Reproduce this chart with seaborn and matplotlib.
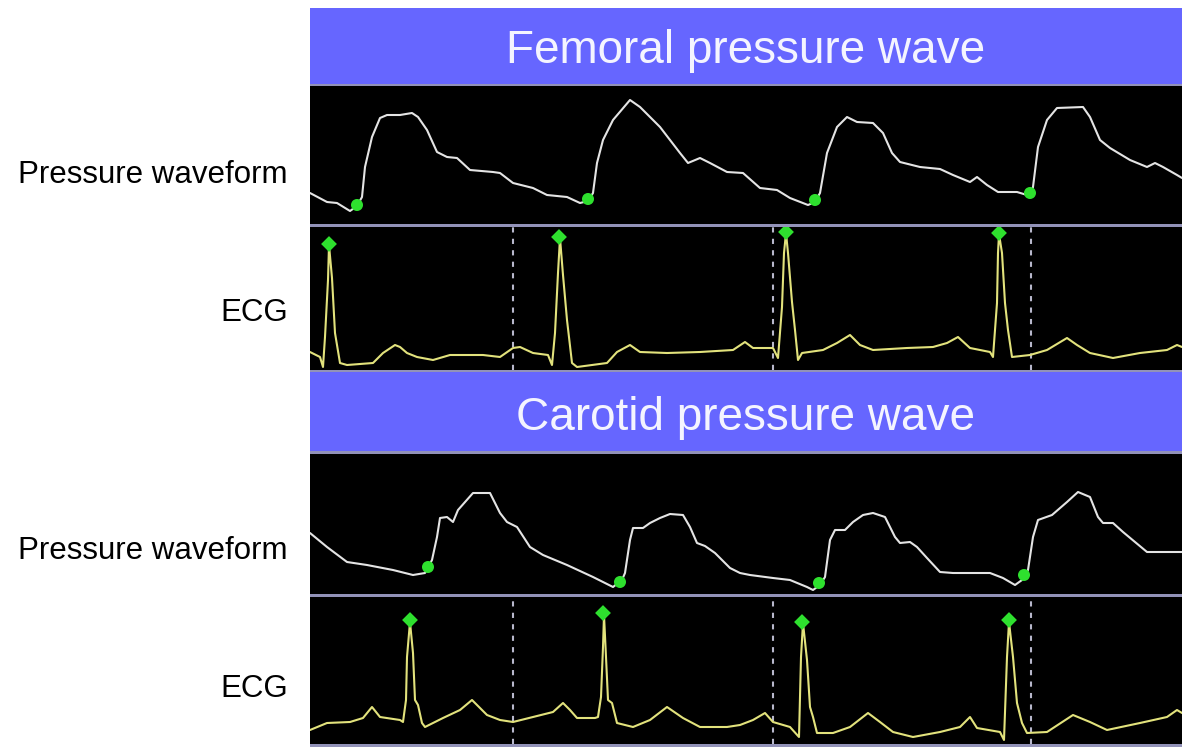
import numpy as np
import pandas as pd
import matplotlib.pyplot as plt
import seaborn as sns

# time in samples, amplitude in screen units
fem_t = [0, 17, 27, 40, 47, 52, 55, 62, 70, 77, 90, 102, 108, 117, 127, 137, 147, 160, 183, 190,
         203, 223, 237, 257, 270, 278, 283, 287, 293, 303, 320, 330, 350, 370, 378, 390, 400, 417,
         433, 450, 467, 480, 498, 505, 510, 517, 527, 537, 547, 563, 573, 582, 590, 610, 630, 643,
         660, 667, 677, 688, 707, 717, 721, 723, 728, 737, 747, 773, 780, 790, 800, 820, 837, 845,
         853, 867, 872]
fem_p = [30, 21, 20, 12, 17, 26, 56, 86, 105, 108, 108, 110, 106, 93, 71, 66, 65, 53, 51, 50,
         40, 35, 28, 26, 20, 22, 30, 60, 83, 103, 123, 116, 96, 70, 60, 65, 60, 51,
         50, 35, 33, 25, 18, 21, 30, 70, 96, 106, 101, 100, 90, 70, 61, 56, 54, 48,
         41, 46, 38, 31, 31, 28, 29, 36, 76, 103, 115, 116, 106, 83, 75, 63, 56, 60,
         56, 48, 45]
fem_onset_t = [47, 278, 505, 720]
fem_onset_p = [18, 24, 23, 30]

fem_ecg_t = [0, 10, 13, 15, 18, 19, 22, 25, 30, 37, 63, 73, 85, 90, 97, 107, 123, 140, 173, 190,
             203, 210, 223, 238, 242, 245, 248, 250, 253, 257, 262, 267, 297, 307, 320, 330, 357,
             390, 423, 435, 443, 463, 468, 472, 474, 476, 478, 482, 485, 488, 492, 513, 527, 540,
             550, 563, 597, 623, 637, 648, 660, 680, 683, 687, 688, 689, 692, 695, 698, 702, 720,
             737, 757, 767, 780, 803, 830, 857, 867, 872]
fem_ecg_v = [18, 13, 3, 33, 90, 125, 92, 37, 7, 5, 7, 17, 25, 23, 17, 13, 10, 15, 15, 13,
             22, 23, 17, 15, 5, 37, 97, 132, 95, 50, 7, 3, 7, 18, 25, 18, 17,
             18, 20, 28, 22, 22, 12, 63, 117, 137, 117, 68, 40, 10, 17, 20, 27, 35,
             25, 20, 22, 23, 27, 33, 22, 18, 13, 67, 117, 136, 117, 67, 40, 13, 15,
             20, 32, 25, 17, 12, 17, 20, 25, 23]
fem_r_t = [19, 249, 476, 689]
fem_r_v = [126, 133, 138, 137]

car_t = [0, 17, 37, 57, 83, 103, 115, 122, 127, 130, 137, 143, 148, 163, 180, 190, 197, 207, 220,
         233, 257, 283, 303, 312, 315, 320, 323, 333, 340, 350, 360, 373, 380, 387, 395, 405, 420,
         430, 440, 463, 480, 497, 503, 510, 515, 520, 525, 535, 543, 553, 563, 575, 585, 590, 600,
         607, 617, 630, 643, 680, 693, 705, 712, 718, 723, 728, 742, 757, 768, 780, 788, 793, 803,
         813, 837, 872]
car_p = [62, 48, 33, 30, 25, 20, 22, 35, 58, 77, 78, 73, 85, 102, 102, 82, 73, 68, 48,
         40, 30, 18, 8, 15, 22, 55, 67, 67, 72, 77, 81, 80, 68, 52, 49, 42, 27,
         22, 20, 17, 15, 8, 5, 10, 18, 55, 65, 65, 73, 80, 82, 78, 58, 52, 53,
         48, 37, 23, 22, 22, 17, 10, 15, 25, 58, 75, 80, 93, 103, 98, 78, 72, 72,
         63, 43, 43]
car_onset_t = [118, 310, 509, 714]
car_onset_p = [28, 13, 12, 20]

car_ecg_t = [0, 17, 40, 53, 62, 70, 90, 93, 96, 97, 100, 103, 105, 108, 112, 115, 133, 150, 162,
             177, 190, 203, 223, 243, 253, 260, 267, 285, 288, 291, 293, 294, 296, 298, 302, 307,
             323, 340, 357, 373, 390, 417, 430, 443, 455, 463, 480, 489, 491, 493, 497, 500, 503,
             507, 523, 540, 558, 570, 583, 603, 630, 650, 660, 667, 690, 694, 697, 699, 703, 707,
             712, 717, 737, 763, 780, 797, 830, 857, 867, 872]
car_ecg_v = [15, 22, 23, 27, 38, 28, 25, 23, 45, 88, 123, 92, 45, 40, 22, 18, 27, 35, 45,
             30, 25, 23, 28, 33, 42, 35, 27, 27, 28, 48, 98, 130, 88, 45, 42, 22,
             18, 25, 38, 27, 18, 18, 20, 25, 32, 23, 18, 8, 88, 122, 85, 38, 28,
             12, 12, 18, 32, 23, 13, 8, 13, 18, 28, 17, 13, 5, 88, 123, 88, 42,
             22, 12, 13, 30, 23, 15, 22, 28, 35, 32]
car_r_t = [100, 293, 492, 699]
car_r_v = [125, 132, 123, 125]

marker_t = [203, 463, 721]

titles = ["Femoral pressure wave", "Carotid pressure wave"]
row_labels = ["Pressure waveform", "ECG"]

sns.set_style("white")
plt.rcParams['font.family'] = ['Liberation Sans', 'DejaVu Sans']

W, H = 1182, 747
fig = plt.figure(figsize=(W / 100, H / 100), dpi=100)

def box(top, bottom, left=310, right=1182):
    return [left / W, 1 - bottom / H, (right - left) / W, (bottom - top) / H]

blue = "#6666ff"
sep = "#9292b8"

back = fig.add_axes(box(84, 747))
back.set_facecolor(sep)
back.set_xticks([]); back.set_yticks([])
for s in back.spines.values():
    s.set_visible(False)

def strip(top, bottom, color):
    ax = fig.add_axes(box(top, bottom))
    ax.set_facecolor(color)
    ax.set_xticks([]); ax.set_yticks([])
    for s in ax.spines.values():
        s.set_visible(False)
    ax.set_xlim(0, 872)
    return ax

sections = [
    dict(title=titles[0], bar=(8, 84), press=(86, 224), ecg=(227, 370),
         pt=fem_t, pv=fem_p, ot=fem_onset_t, ov=fem_onset_p,
         et=fem_ecg_t, ev=fem_ecg_v, rt=fem_r_t, rv=fem_r_v,
         pbase=223, ebase=370, title_y=63, lab_y=(183, 321)),
    dict(title=titles[1], bar=(372, 451), press=(454, 594), ecg=(597, 744),
         pt=car_t, pv=car_p, ot=car_onset_t, ov=car_onset_p,
         et=car_ecg_t, ev=car_ecg_v, rt=car_r_t, rv=car_r_v,
         pbase=595, ebase=745, title_y=430, lab_y=(559, 697)),
]

for sec in sections:
    bar = strip(sec["bar"][0], sec["bar"][1], blue)
    bar.set_ylim(0, 1)
    fig.text((310 + 1182) / 2 / W, 1 - sec["title_y"] / H, sec["title"],
             color="#f4f4ff", fontsize=33, ha="center", va="baseline")

    # pressure trace
    pa = strip(sec["press"][0], sec["press"][1], "black")
    pa.set_ylim(sec["pbase"] - sec["press"][1], sec["pbase"] - sec["press"][0])
    dfp = pd.DataFrame({"t": sec["pt"], "v": sec["pv"]})
    sns.lineplot(data=dfp, x="t", y="v", ax=pa, color="#e4e4e4", lw=1.5,
                 sort=False, estimator=None)
    dfo = pd.DataFrame({"t": sec["ot"], "v": sec["ov"]})
    sns.scatterplot(data=dfo, x="t", y="v", ax=pa, color="#2ee02e", s=75,
                    edgecolor="none", zorder=5)
    pa.set_xlabel(""); pa.set_ylabel("")

    # ECG trace
    ea = strip(sec["ecg"][0], sec["ecg"][1], "black")
    ea.set_ylim(sec["ebase"] - sec["ecg"][1], sec["ebase"] - sec["ecg"][0])
    for m in marker_t:
        ea.axvline(m, color="#b8b8cc", lw=1.5, ls=(0, (2.5, 3)))
    dfe = pd.DataFrame({"t": sec["et"], "v": sec["ev"]})
    sns.lineplot(data=dfe, x="t", y="v", ax=ea, color="#e2e27c", lw=1.5,
                 sort=False, estimator=None)
    dfr = pd.DataFrame({"t": sec["rt"], "v": sec["rv"]})
    sns.scatterplot(data=dfr, x="t", y="v", ax=ea, color="#2ee02e", s=65,
                    marker="D", edgecolor="none", zorder=5)
    ea.set_xlabel(""); ea.set_ylabel("")

    for lab, y in zip(row_labels, sec["lab_y"]):
        fig.text(288 / W, 1 - y / H, lab, color="black", fontsize=22.5,
                 ha="right", va="baseline")

fig.savefig("out.png", dpi=100, facecolor="white")
